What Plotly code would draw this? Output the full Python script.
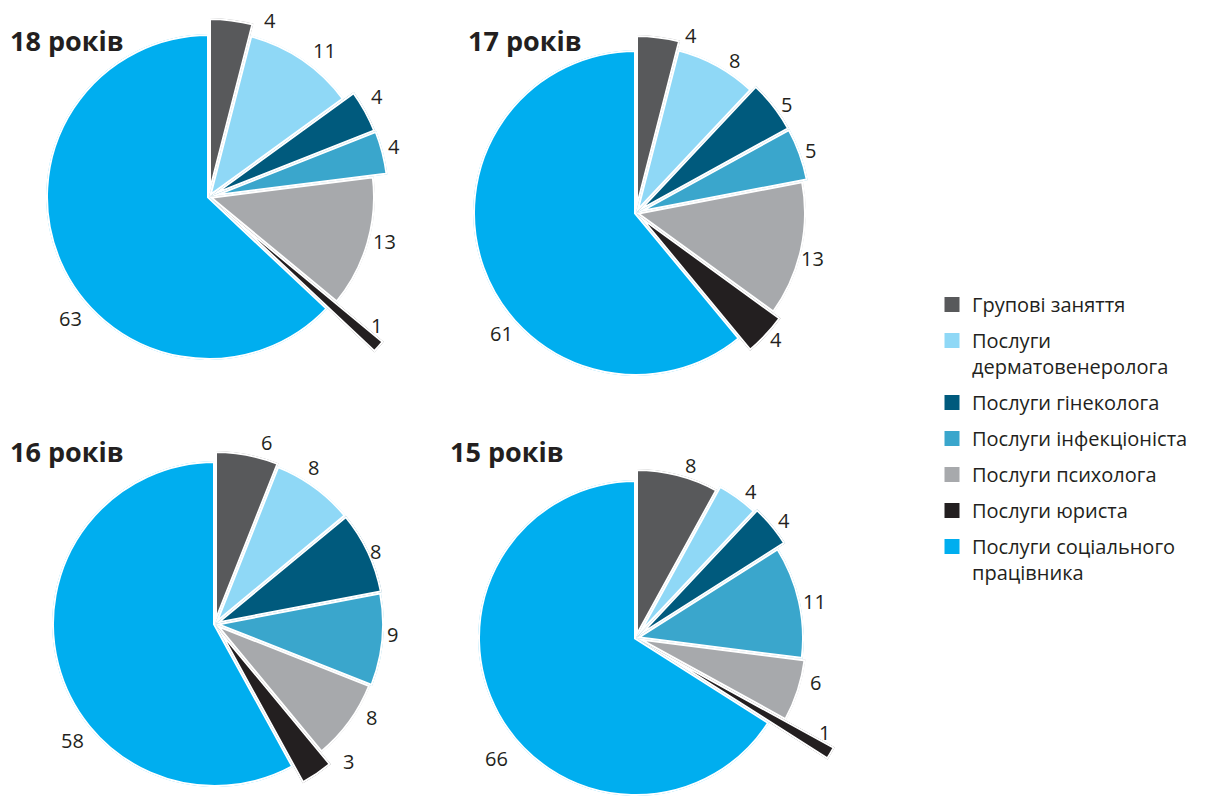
import math
import numpy as np
import plotly.graph_objects as go

# ---------------- data ----------------
CATEGORIES = [
    "Групові заняття",
    "Послуги дерматовенеролога",
    "Послуги гінеколога",
    "Послуги інфекціоніста",
    "Послуги психолога",
    "Послуги юриста",
    "Послуги соціального працівника",
]
LEGEND_LABELS = [
    "Групові заняття",
    "Послуги<br>дерматовенеролога",
    "Послуги гінеколога",
    "Послуги інфекціоніста",
    "Послуги психолога",
    "Послуги юриста",
    "Послуги соціального<br>працівника",
]
AGES = ["18 років", "17 років", "16 років", "15 років"]
VALUES_18 = [4, 11, 4, 4, 13, 1, 63]
VALUES_17 = [4, 8, 5, 5, 13, 4, 61]
VALUES_16 = [6, 8, 8, 9, 8, 3, 58]
VALUES_15 = [8, 4, 4, 11, 6, 1, 66]

# ---------------- style ----------------
COLORS = ["#58595b", "#8fd8f6", "#005a7d", "#3aa6cc", "#a7a9ac", "#231f20", "#00aeef"]
TEXT_COLOR = "#231f20"
FONT = "Open Sans"
W, H = 1208, 796
GAP = 4  # white separator width (px)

# per-slice outer radius (px): the drawing lengthens the small slices
RADII_18 = [179, 167, 179, 180, 166, 227, 163]
RADII_17 = [178, 169, 175, 175, 170, 179, 163]
RADII_16 = [173, 170, 170, 169, 167, 182, 163]
RADII_15 = [169, 174, 177, 168, 171, 227, 158]
# label placement: angular nudge from slice middle (deg) and distance (px)
LABEL_DT_18 = [12, 4, -2, -1, -2, -4, -18]
LABEL_DT_17 = [10, 4, 2, 0, 2, -1, -22]
LABEL_DT_16 = [5, -4, 1, -2, -5, -10, -25]
LABEL_DT_15 = [3, 2, 1, 1, -4, -4, -12]
LABEL_R_18 = [187, 186, 196, 192, 181, 211, 184]
LABEL_R_17 = [186, 182, 186, 185, 182, 189, 181]
LABEL_R_16 = [189, 185, 176, 178, 182, 192, 184]
LABEL_R_15 = [181, 186, 189, 182, 185, 211, 184]
# pie centres (px) and title anchors (px)
CENTERS = [(209, 197), (636, 213), (215, 624), (636, 638)]
TITLE_POS = [(8, 41), (466, 41), (8, 451), (448, 451)]

charts = [
    (VALUES_18, RADII_18, LABEL_DT_18, LABEL_R_18),
    (VALUES_17, RADII_17, LABEL_DT_17, LABEL_R_17),
    (VALUES_16, RADII_16, LABEL_DT_16, LABEL_R_16),
    (VALUES_15, RADII_15, LABEL_DT_15, LABEL_R_15),
]


def sector_bbox(s0, s1):
    """Same bounding box of a polar sector (unit circle, incl. origin) as plotly.js."""
    arc = s1 - s0
    a0 = s0 % 360
    a1 = a0 + arc
    ax0, ay0 = math.cos(math.radians(a0)), math.sin(math.radians(a0))
    ax1, ay1 = math.cos(math.radians(a1)), math.sin(math.radians(a1))
    if (a0 <= 90 and a1 >= 90) or (a0 > 90 and a1 >= 450):
        y1 = 1
    elif ay0 <= 0 and ay1 <= 0:
        y1 = 0
    else:
        y1 = max(ay0, ay1)
    if (a0 <= 180 and a1 >= 180) or (a0 > 180 and a1 >= 540):
        x0 = -1
    elif ax0 >= 0 and ax1 >= 0:
        x0 = 0
    else:
        x0 = min(ax0, ax1)
    if (a0 <= 270 and a1 >= 270) or (a0 > 270 and a1 >= 630):
        y0 = -1
    elif ay0 >= 0 and ay1 >= 0:
        y0 = 0
    else:
        y0 = min(ay0, ay1)
    if a1 >= 360:
        x1 = 1
    elif ax0 <= 0 and ax1 <= 0:
        x1 = 0
    else:
        x1 = max(ax0, ax1)
    return x0, y0, x1, y1


def clamp01(v):
    return min(1.0, max(0.0, v))


fig = go.Figure()
polars = {}
annotations = []
n = 0

for k, (vals, radii, ldt, lr) in enumerate(charts):
    v = np.array(vals, dtype=float)
    widths = v / v.sum() * 360.0
    ends = np.cumsum(widths)
    starts = ends - widths
    mids = starts + widths / 2.0
    cx, cy = CENTERS[k]

    # each slice is one polar bar in its own polar sector (so long slices are not clipped)
    for i in range(len(vals)):
        n += 1
        sp = "polar" if n == 1 else f"polar{n}"
        R = radii[i]
        sec = [90.0 - ends[i], 90.0 - starts[i]]
        x0, y0, x1, y1 = sector_bbox(*sec)
        left, right = cx + x0 * R, cx + x1 * R
        top, bottom = cy - y1 * R, cy - y0 * R
        polars[sp] = dict(
            domain=dict(x=[clamp01(left / W), clamp01(right / W)],
                        y=[clamp01(1 - bottom / H), clamp01(1 - top / H)]),
            sector=sec,
            radialaxis=dict(visible=False, range=[0, R]),
            angularaxis=dict(visible=False, rotation=90, direction="clockwise"),
            bgcolor="rgba(0,0,0,0)",
        )
        fig.add_trace(go.Barpolar(
            r=[R], theta=[mids[i]], width=[widths[i]],
            marker=dict(color=COLORS[i], line=dict(color="white", width=GAP)),
            name=CATEGORIES[i], customdata=[vals[i]],
            hovertemplate=f"{AGES[k]}<br>{CATEGORIES[i]}: %{{customdata}}<extra></extra>",
            subplot=sp, showlegend=False, legendgroup=f"g{i}",
        ))
        # value label outside the slice
        a = math.radians(mids[i] + ldt[i])
        lx = cx + lr[i] * math.sin(a)
        ly = cy - lr[i] * math.cos(a)
        annotations.append(dict(
            text=str(vals[i]), xref="paper", yref="paper",
            x=lx / W, y=1 - ly / H, xanchor="center", yanchor="middle",
            showarrow=False, font=dict(family=FONT, size=20, color=TEXT_COLOR),
        ))

    tx, ty = TITLE_POS[k]
    annotations.append(dict(
        text=f"<b>{AGES[k]}</b>", xref="paper", yref="paper",
        x=tx / W, y=1 - ty / H, xanchor="left", yanchor="middle",
        showarrow=False, font=dict(family=FONT, size=27, color=TEXT_COLOR),
    ))

# legend entries (one per category)
for i, lab in enumerate(LEGEND_LABELS):
    fig.add_trace(go.Scatterpolar(
        r=[None], theta=[None], mode="markers", name=lab,
        marker=dict(symbol="square", size=15, color=COLORS[i]),
        legendgroup=f"g{i}", subplot="polar", hoverinfo="skip",
    ))

fig.update_layout(
    width=W, height=H,
    margin=dict(l=0, r=0, t=0, b=0),
    paper_bgcolor="white",
    annotations=annotations,
    showlegend=True,
    legend=dict(
        x=932 / W, y=1 - 285 / H, xanchor="left", yanchor="top",
        font=dict(family=FONT, size=20, color=TEXT_COLOR),
        tracegroupgap=7, valign="top", bgcolor="rgba(0,0,0,0)",
    ),
    **polars,
)

fig.write_html("out.html")
